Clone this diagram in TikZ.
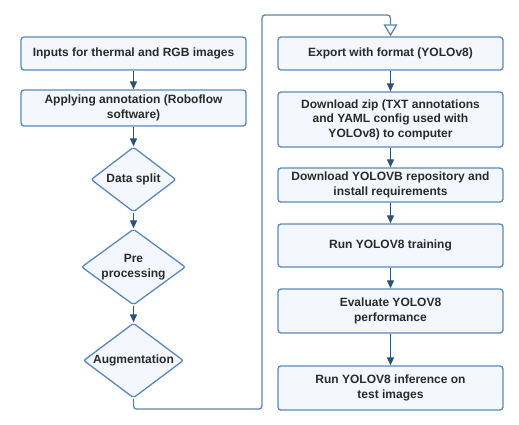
\documentclass[tikz,border=0pt]{standalone}
\usepackage{fontspec}
\setmainfont{Liberation Sans}
\usepackage{xcolor}
\usepackage{tikz}
\usetikzlibrary{positioning,shapes.geometric,arrows.meta}

\definecolor{boxline}{HTML}{5A88B8}
\definecolor{boxfill}{HTML}{F4F8FE}
\definecolor{arrowblue}{HTML}{2B5278}
\definecolor{loopline}{HTML}{6284A8}
\definecolor{textdark}{HTML}{2A2A2A}

\begin{document}
\begin{tikzpicture}[x=1pt,y=-1pt,
  stepbox/.style={draw=boxline, fill=boxfill, line width=1.3pt, rounded corners=3pt,
    minimum width=225pt, align=center, inner sep=0pt, text=textdark,
    font=\fontsize{12}{14.6}\selectfont\bfseries},
  choice/.style={diamond, aspect=1.35, draw=boxline, fill=boxfill, line width=1.3pt, rounded corners=2pt,
    align=center, inner sep=0pt, text=textdark,
    font=\fontsize{12}{14.6}\selectfont\bfseries},
  flow/.style={draw=arrowblue, line width=1.2pt, -{Triangle[width=7pt,length=8pt]}}]
\useasboundingbox (0,0) rectangle (519,424);

% left column
\node[stepbox, minimum height=33pt] (inputs) at (133.5,53.5) {Inputs for thermal and RGB images};
\node[stepbox, minimum height=36pt] (annot) at (133.5,108) {Applying annotation (Roboflow\\software)};
\node[choice, minimum width=85pt, minimum height=65pt] (split) at (133.5,179.5) {Data split};
\node[choice, minimum width=104pt, minimum height=76pt] (prep) at (133.5,267) {Pre\\processing};
\node[choice, minimum width=100pt, minimum height=75pt] (augm) at (133.5,360.5) {Augmentation};

% right column
\node[stepbox, minimum height=33pt] (export) at (390.5,53.5) {Export with format (YOLOv8)};
\node[stepbox, minimum height=55pt] (zip) at (390.5,119.5) {Download zip (TXT annotations\\and YAML config used with\\YOLOv8) to computer};
\node[stepbox, minimum height=34pt] (repo) at (390.5,185) {Download YOLOVB repository and\\install requirements};
\node[stepbox, minimum height=43pt] (train) at (390.5,245.5) {Run YOLOV8 training};
\node[stepbox, minimum height=44pt] (eval) at (390.5,311) {Evaluate YOLOV8\\performance};
\node[stepbox, minimum height=44pt] (infer) at (390.5,388) {Run YOLOV8 inference on\\test images};

\draw[flow] (inputs) -- (annot);
\draw[flow] (annot) -- (split);
\draw[flow] (split) -- (prep);
\draw[flow] (prep) -- (augm);

\draw[flow] (export) -- (zip);
\draw[flow] (zip) -- (repo);
\draw[flow] (repo) -- (train);
\draw[flow] (train) -- (eval);
\draw[flow] (eval) -- (infer);

% link between the columns
\coordinate (loopbot) at (262,409);
\coordinate (looptop) at (262,15);
\draw[loopline, line width=1.3pt, rounded corners=3pt, -{Triangle[open,width=14pt,length=12pt]}]
  (augm.south) |- (loopbot) -- (looptop) -| (export.north);
\end{tikzpicture}
\end{document}
